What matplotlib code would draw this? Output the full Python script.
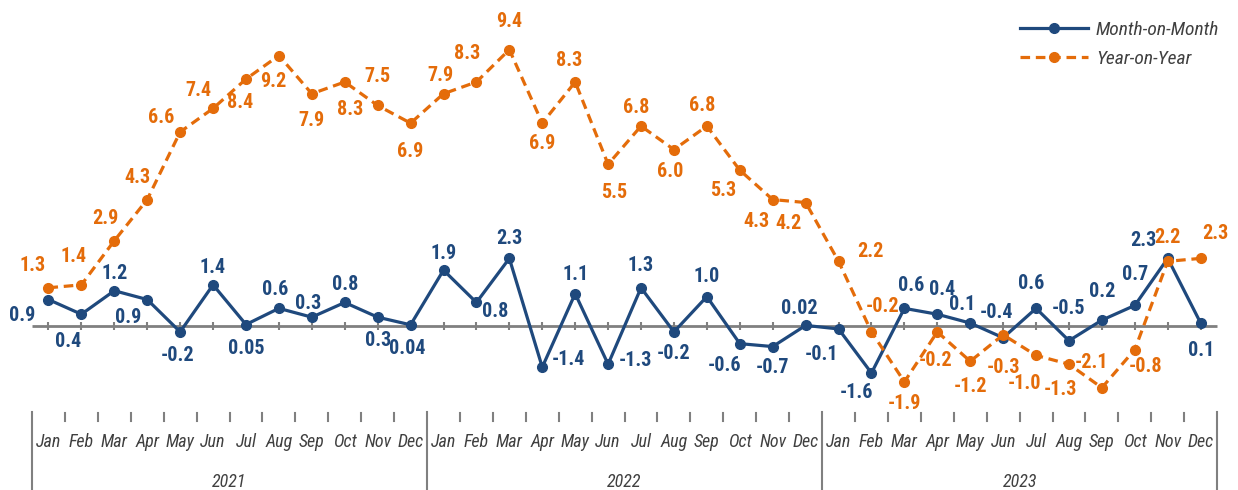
import matplotlib
matplotlib.use("Agg")
import matplotlib.pyplot as plt

# narrow sans first, the rest only as fallbacks if it is missing
plt.rcParams['font.family'] = ['Liberation Sans Narrow', 'Arial Narrow', 'Roboto Condensed',
                               'PT Sans Narrow', 'IBM Plex Sans Condensed', 'DejaVu Sans']

years = ['2021', '2022', '2023']
months = ['Jan', 'Feb', 'Mar', 'Apr', 'May', 'Jun', 'Jul', 'Aug', 'Sep', 'Oct', 'Nov', 'Dec']

mom = [0.9, 0.4, 1.2, 0.9, -0.2, 1.4, 0.05, 0.6, 0.3, 0.8, 0.3, 0.04,
       1.9, 0.8, 2.3, -1.4, 1.1, -1.3, 1.3, -0.2, 1.0, -0.6, -0.7, 0.02,
       -0.1, -1.6, 0.6, 0.4, 0.1, -0.4, 0.6, -0.5, 0.2, 0.7, 2.3, 0.1]
yoy = [1.3, 1.4, 2.9, 4.3, 6.6, 7.4, 8.4, 9.2, 7.9, 8.3, 7.5, 6.9,
       7.9, 8.3, 9.4, 6.9, 8.3, 5.5, 6.8, 6.0, 6.8, 5.3, 4.3, 4.2,
       2.2, -0.2, -1.9, -0.2, -1.2, -0.3, -1.0, -1.3, -2.1, -0.8, 2.2, 2.3]

# label offsets in pixels (dx right, dy down) relative to each point
mom_off = [(-26, 16), (-13, 27), (0, -17), (-19, 18), (-3, 24), (0, -17), (0, 24), (-4, -19),
           (-4, -14), (0, -18), (0, 23), (-3, 24),
           (0, -17), (19, 9), (0, -20), (26, -8), (0, -19), (27, -4), (0, -22), (0, 22),
           (0, -20), (-15, 22), (0, 21), (-6, -17),
           (-17, 26), (-15, 19), (7, -23), (5, -25), (-8, -19), (-7, -25), (-5, -25), (0, -32),
           (0, -29), (0, -31), (-24, -18), (0, 27)]
yoy_off = [(-16, -22), (-8, -28), (-9, -22), (-10, -22), (-19, -14), (-15, -18), (-6, 23), (-6, 26),
           (0, 27), (5, 28), (0, -29), (0, 28),
           (-3, -18), (-9, -28), (0, -28), (0, 20), (-6, -21), (6, 28), (-5, -19), (-4, 22),
           (-5, -21), (-17, 20), (-16, 22), (-17, 21),
           (32, -10), (11, -25), (0, 22), (-2, 29), (0, 25), (0, 33), (-12, 28), (-9, 25),
           (-10, -25), (11, 17), (0, -24), (15, -25)]

BLUE = '#1F497D'
ORANGE = '#E46C0A'
GREY = '#808080'
TXT = '#404040'

W, H = 1238, 490
fig = plt.figure(figsize=(W / 100, H / 100), dpi=100)
ax = fig.add_axes([0, 0, 1, 1])
ax.axis('off')

n = len(mom)
x = list(range(n))
px_x = 32.92   # pixels per month
px_y = 29.4    # pixels per unit
zero_px = 326
ax.set_xlim(-0.5 - 32 / px_x, -0.5 + (W - 32) / px_x)
ax.set_ylim(-(H - zero_px) / px_y, zero_px / px_y)

# zero line with month ticks
ax.hlines(0, -0.5, n - 0.5, color=GREY, lw=2, zorder=1)
ax.vlines(x, -0.12, 0.12, color=GREY, lw=1.5, zorder=1)

ax.plot(x, mom, color=BLUE, lw=2.3, marker='o', ms=7, zorder=3, label='Month-on-Month')
ax.plot(x, yoy, color=ORANGE, lw=2.3, ls=(0, (3, 1.8)), marker='o', ms=7, zorder=4,
        label='Year-on-Year')

def fmt(v):
    return f"{v:.1f}" if round(v, 1) == v else f"{v:.2f}"

for i, v in enumerate(mom):
    dx, dy = mom_off[i]
    ax.annotate(fmt(v), (i, v), xytext=(dx * 0.72, -dy * 0.72), textcoords='offset points',
                ha='center', va='center', fontsize=14.5, fontweight='bold', color=BLUE, zorder=5)
for i, v in enumerate(yoy):
    dx, dy = yoy_off[i]
    ax.annotate(fmt(v), (i, v), xytext=(dx * 0.72, -dy * 0.72), textcoords='offset points',
                ha='center', va='center', fontsize=14.5, fontweight='bold', color=ORANGE, zorder=5)

# category axis at the bottom
tr = ax.get_xaxis_transform()
for k in range(len(years) + 1):
    ax.plot([12 * k - 0.5] * 2, [0.159, 0.0], transform=tr, color=GREY, lw=1.5, clip_on=False)
for i in range(n - 1):
    if (i + 1) % 12 != 0:
        ax.plot([i + 0.5] * 2, [0.157, 0.141], transform=tr, color=GREY, lw=1.5)
for i in range(n):
    ax.text(i, 0.098, months[i % 12], transform=tr, ha='center', va='center',
            fontsize=13, style='italic', color=TXT)
for k, yr in enumerate(years):
    ax.text(12 * k + 5.5, 0.016, yr, transform=tr, ha='center', va='center',
            fontsize=13, style='italic', color=TXT)

leg = ax.legend(loc='upper left', bbox_to_anchor=(1020 / W, 1 - 21 / H),
                bbox_transform=fig.transFigure, frameon=False, borderpad=0, borderaxespad=0,
                handlelength=3.5, handletextpad=0.4, labelspacing=0.55,
                prop={'size': 14, 'style': 'italic'})
for t in leg.get_texts():
    t.set_color(TXT)

fig.savefig('out.png', dpi=100)
